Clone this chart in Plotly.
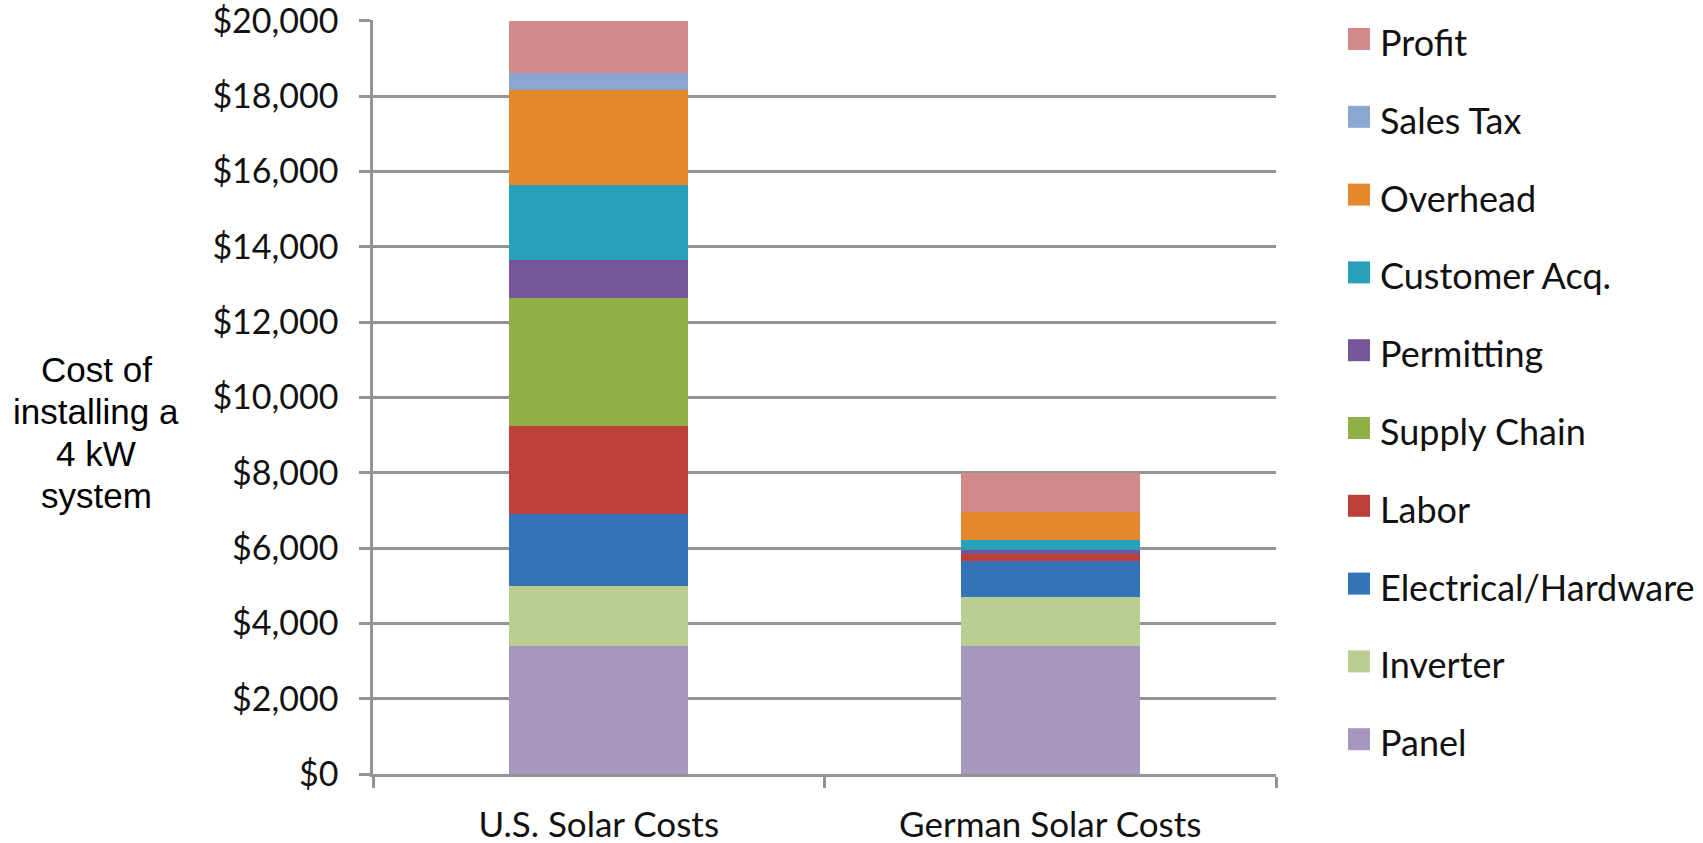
import plotly.graph_objects as go

# Cost breakdown of a 4 kW residential solar installation
categories = ["U.S. Solar Costs", "German Solar Costs"]

components = ["Panel", "Inverter", "Electrical/Hardware", "Labor", "Supply Chain",
              "Permitting", "Customer Acq.", "Overhead", "Sales Tax", "Profit"]
us_costs = [3400, 1600, 1900, 2350, 3400, 1000, 2000, 2500, 450, 1400]
german_costs = [3400, 1300, 950, 200, 0, 100, 250, 750, 0, 1050]
colors = ["#A597BE", "#BBCE91", "#3573B8", "#BD3F39", "#8FAF47",
          "#76569A", "#28A0BC", "#E5872C", "#8BA7CF", "#D28A88"]

tick_values = [0, 2000, 4000, 6000, 8000, 10000, 12000, 14000, 16000, 18000, 20000]
tick_labels = ["$0", "$2,000", "$4,000", "$6,000", "$8,000", "$10,000",
               "$12,000", "$14,000", "$16,000", "$18,000", "$20,000"]

axis_title_lines = ["Cost of", "installing a", "4 kW", "system"]

W, H = 1703, 843
L, R, T, B = 373, 1276, 20, 774
LABEL_FONT = "Lato, 'Open Sans', sans-serif"
TEXT = "#111111"
GRID = "#939393"

fig = go.Figure()
for name, us, de, col in zip(components, us_costs, german_costs, colors):
    fig.add_trace(go.Bar(
        name=name, x=categories, y=[us, de],
        marker=dict(color=col, line=dict(width=0)),
        showlegend=False,
    ))

fig.update_layout(
    width=W, height=H,
    margin=dict(l=L, r=W - R, t=T, b=H - B, autoexpand=False),
    paper_bgcolor="white", plot_bgcolor="white",
    barmode="stack", bargap=0.604,
    font=dict(family=LABEL_FONT, size=34, color=TEXT),
)

fig.update_yaxes(
    range=[0, 20020], tickvals=tick_values, ticktext=tick_labels,
    showgrid=True, gridcolor=GRID, gridwidth=2.5,
    showline=True, linecolor=GRID, linewidth=2.5,
    ticks="outside", ticklen=11, tickwidth=2.5, tickcolor=GRID,
    ticklabelstandoff=14, ticklabeloverflow="allow", zeroline=False,
    automargin=False,
    tickfont=dict(family=LABEL_FONT, size=34, color=TEXT),
)
fig.update_xaxes(
    showgrid=False, showline=True, linecolor=GRID, linewidth=2.5,
    ticks="outside", tickson="boundaries", ticklen=11, tickwidth=2.5, tickcolor=GRID,
    ticklabelstandoff=18, ticklabeloverflow="allow", automargin=False,
    tickfont=dict(family=LABEL_FONT, size=35, color=TEXT),
)


def px_x(px):
    return (px - L) / (R - L)


def px_y(py):
    return (B - py) / (B - T)


# Axis title written horizontally, one line per annotation for tight spacing
for i, line in enumerate(axis_title_lines):
    fig.add_annotation(
        text=line, xref="paper", yref="paper",
        x=px_x(96), y=px_y(369 + i * 42.2),
        xanchor="center", yanchor="middle", showarrow=False,
        font=dict(family="'Liberation Sans', Arial, sans-serif", size=35, color="#000000"),
    )

# Legend: top entry is the top of the stack
step = 77.8
for i, (name, col) in enumerate(zip(reversed(components), reversed(colors))):
    cy = 39 + i * step
    fig.add_shape(
        type="rect", xref="paper", yref="paper",
        x0=px_x(1348), x1=px_x(1370), y0=px_y(cy + 11), y1=px_y(cy - 11),
        fillcolor=col, line=dict(width=0),
    )
    fig.add_annotation(
        text=name, xref="paper", yref="paper",
        x=px_x(1378), y=px_y(cy + 3), xanchor="left", yanchor="middle",
        showarrow=False, font=dict(family=LABEL_FONT, size=36, color=TEXT),
    )

fig.write_html("out.html")
